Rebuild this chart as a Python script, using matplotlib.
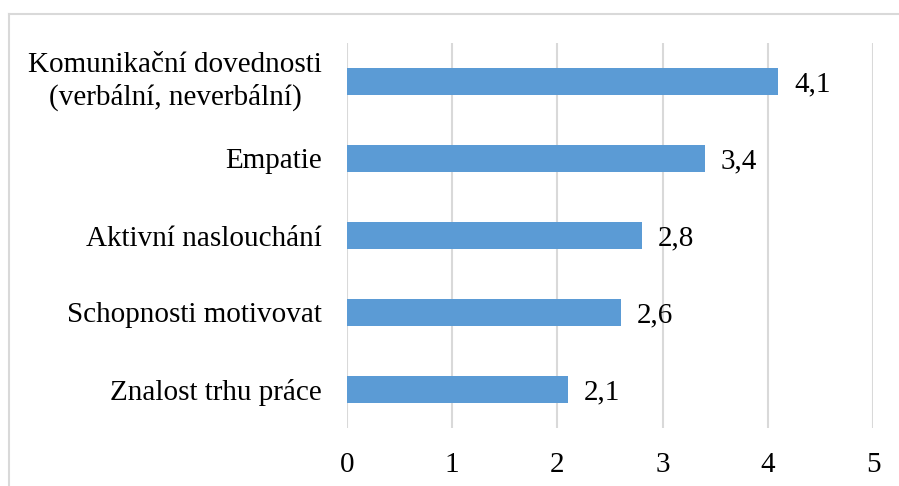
import matplotlib.pyplot as plt
from matplotlib.lines import Line2D

categories = ['Komunikační dovednosti\n(verbální, neverbální)', 'Empatie',
              'Aktivní naslouchání', 'Schopnosti motivovat', 'Znalost trhu práce']
values = [4.1, 3.4, 2.8, 2.6, 2.1]
ticks = [0, 1, 2, 3, 4, 5]

plt.rcParams['font.family'] = ['Liberation Serif', 'DejaVu Serif']
fs = 21

fig = plt.figure(figsize=(8.99, 4.86), dpi=100)
ax = fig.add_axes([347 / 899, 1 - 428 / 486, (873 - 347) / 899, (428 - 43) / 486])

y = list(range(len(categories)))[::-1]
ax.barh(y, values, height=0.36, color='#5B9BD5', zorder=3)
for yi, v in zip(y, values):
    ax.text(v + 0.15, yi, f'{v:.1f}'.replace('.', ','), va='center_baseline', ha='left', fontsize=fs)

ax.set_xlim(0, 5)
ax.set_ylim(-0.5, 4.5)
ax.set_xticks(ticks)
ax.set_xticklabels([str(t) for t in ticks], fontsize=fs)
ax.set_yticks(y)
ax.set_yticklabels(categories, fontsize=fs, multialignment='center', va='center_baseline')
for lab in ax.get_yticklabels():
    if '\n' in lab.get_text():
        lab.set_va('center')
        lab.set_linespacing(1.28)
ax.tick_params(axis='both', length=0)
ax.tick_params(axis='x', pad=17)
ax.tick_params(axis='y', pad=18)
ax.grid(axis='x', color='#d9d9d9', linewidth=1.5, zorder=0)
for s in ax.spines.values():
    s.set_visible(False)

# outer chart frame
fig.add_artist(Line2D([9 / 899, 1], [1 - 14 / 486, 1 - 14 / 486], color='#d9d9d9', lw=1.5))
fig.add_artist(Line2D([9 / 899, 9 / 899], [0, 1 - 14 / 486], color='#d9d9d9', lw=1.5))

fig.savefig('out.png', dpi=100)
